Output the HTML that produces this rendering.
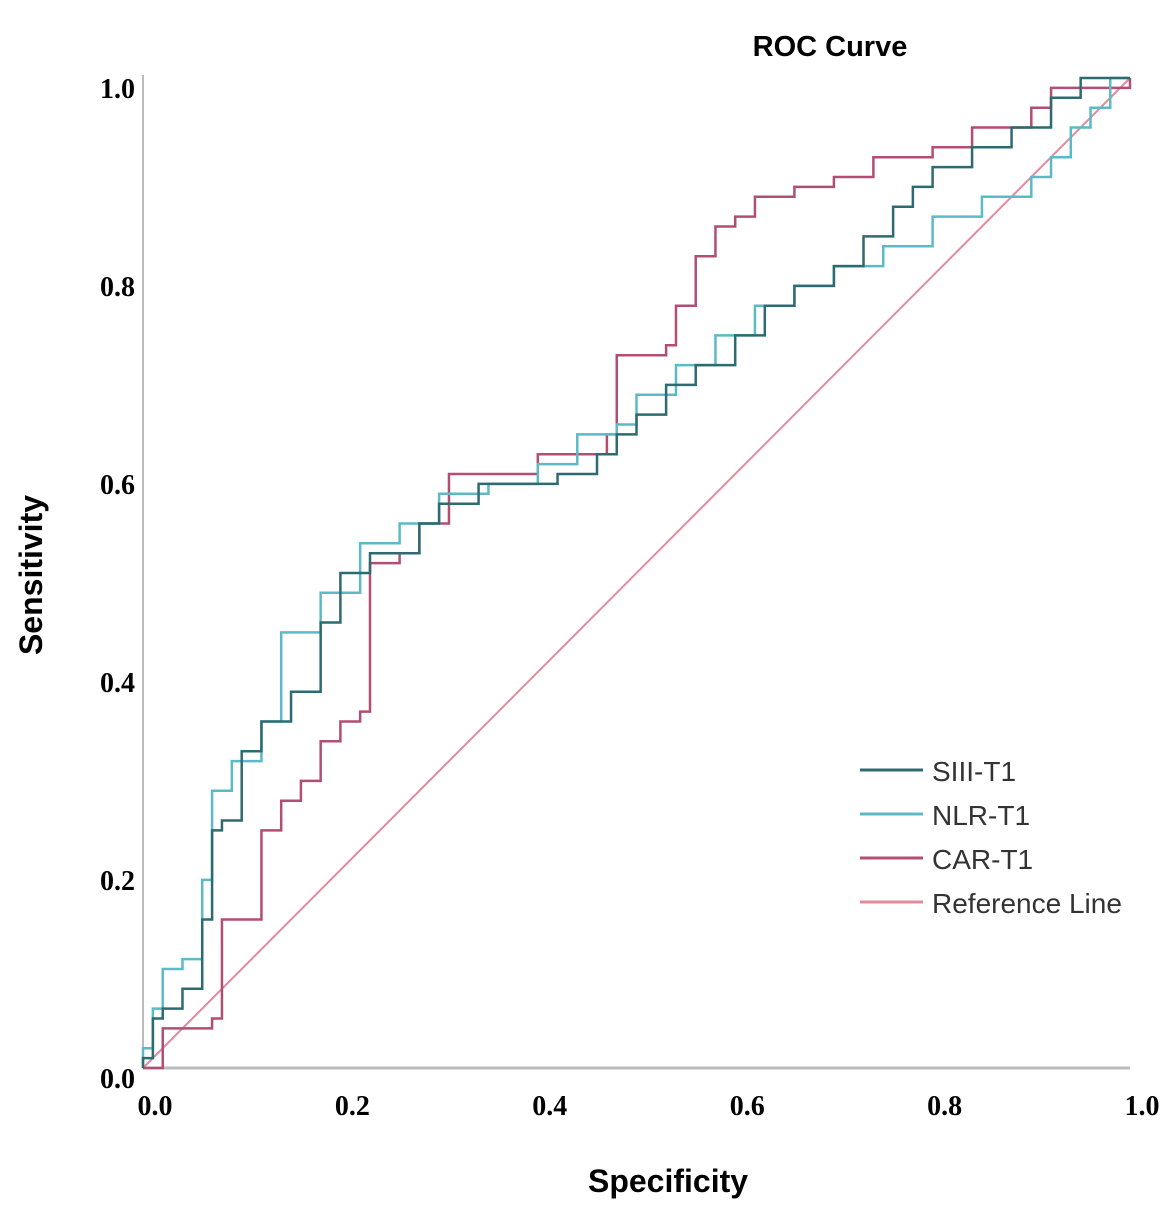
<!DOCTYPE html>
<html><head><meta charset="utf-8"><style>
body{margin:0;background:#fff;}
svg{display:block;}
</style></head><body>
<svg width="1171" height="1218" xmlns="http://www.w3.org/2000/svg">
<g id="plot"></g>
</svg>
<script>
const xTicks=[0,0.2,0.4,0.6,0.8,1.0];
const yTicks=[0,0.2,0.4,0.6,0.8,1.0];
const tickLabels=["0.0","0.2","0.4","0.6","0.8","1.0"];
const siiiSpec=[0,0.01,0.02,0.04,0.06,0.07,0.08,0.1,0.12,0.15,0.18,0.2,0.23,0.25,0.28,0.3,0.34,0.38,0.42,0.46,0.48,0.5,0.53,0.56,0.6,0.63,0.66,0.7,0.73,0.76,0.78,0.8,0.84,0.88,0.92,0.95,1.0];
const siiiSens=[0.01,0.05,0.06,0.08,0.15,0.24,0.25,0.32,0.35,0.38,0.45,0.5,0.52,0.52,0.55,0.57,0.59,0.59,0.60,0.62,0.64,0.66,0.69,0.71,0.74,0.77,0.79,0.81,0.84,0.87,0.89,0.91,0.93,0.95,0.98,1.0,1.0];
const nlrSpec=[0,0.01,0.02,0.04,0.06,0.07,0.09,0.12,0.14,0.16,0.18,0.22,0.26,0.3,0.35,0.4,0.44,0.48,0.5,0.54,0.58,0.62,0.66,0.7,0.75,0.8,0.85,0.9,0.92,0.94,0.96,0.98,1.0];
const nlrSens=[0.02,0.06,0.1,0.11,0.19,0.28,0.31,0.35,0.44,0.44,0.48,0.53,0.55,0.58,0.59,0.61,0.64,0.65,0.68,0.71,0.74,0.77,0.79,0.81,0.83,0.86,0.88,0.9,0.92,0.95,0.97,1.0,1.0];
const carSpec=[0,0.02,0.07,0.08,0.09,0.12,0.14,0.16,0.18,0.2,0.22,0.23,0.26,0.28,0.31,0.4,0.45,0.47,0.48,0.53,0.54,0.56,0.58,0.6,0.62,0.66,0.7,0.74,0.8,0.84,0.9,0.92,1.0];
const carSens=[0.0,0.04,0.05,0.15,0.15,0.24,0.27,0.29,0.33,0.35,0.36,0.51,0.52,0.55,0.6,0.62,0.62,0.64,0.72,0.73,0.77,0.82,0.85,0.86,0.88,0.89,0.9,0.92,0.93,0.95,0.97,0.99,1.0];
const NS="http://www.w3.org/2000/svg";
const g=document.getElementById('plot');
const X=v=>143+v*987, Y=v=>1068-v*990;
function el(t,a,txt){const e=document.createElementNS(NS,t);for(const k in a)e.setAttribute(k,a[k]);if(txt!==undefined)e.textContent=txt;g.appendChild(e);return e;}
let e;
e=el('line',{x1:143,y1:75,x2:143,y2:1068,stroke:'#bbb','stroke-width':2});


e=el('line',{x1:143,y1:1068,x2:1130,y2:1068,stroke:'#bbb','stroke-width':3});


xTicks.forEach((v,i)=>{
 e=el('text',{x:X(v)+12,y:1115,'font-family':'Liberation Serif, serif','font-weight':'bold','font-size':28,'text-anchor':'middle'},tickLabels[i]);
 
 
});
yTicks.forEach((v,i)=>{
 e=el('text',{x:135,y:Y(v)+20,'font-family':'Liberation Serif, serif','font-weight':'bold','font-size':28,'text-anchor':'end'},tickLabels[i]);
 
 
});
e=el('line',{x1:X(0),y1:Y(0),x2:X(1),y2:Y(1),stroke:'#e48a9c','stroke-width':2});


function stair(sx,sy,color,name){
 let d='M'+X(0)+' '+Y(0);
 for(let i=0;i<sx.length;i++){d+=' L'+X(sx[i])+' '+(i?Y(sy[i-1]):Y(0))+' L'+X(sx[i])+' '+Y(sy[i]);}
 const p=el('path',{d:d,fill:'none',stroke:color,'stroke-width':2.5});
 
 
}
stair(carSpec,carSens,'#b24d73','car-t1-curve');
stair(nlrSpec,nlrSens,'#5cbac6','nlr-t1-curve');
stair(siiiSpec,siiiSens,'#2d6b70','siii-t1-curve');
e=el('text',{x:830,y:56,'font-family':'Liberation Sans, sans-serif','font-weight':'bold','font-size':29,'text-anchor':'middle'},'ROC Curve');


e=el('text',{x:668,y:1192,'font-family':'Liberation Sans, sans-serif','font-weight':'bold','font-size':32,'text-anchor':'middle'},'Specificity');


e=el('text',{x:0,y:0,transform:'translate(42,575) rotate(-90)','font-family':'Liberation Sans, sans-serif','font-weight':'bold','font-size':32,'text-anchor':'middle'},'Sensitivity');


const leg=[['SIII-T1','#2d6b70'],['NLR-T1','#5cbac6'],['CAR-T1','#b24d73'],['Reference Line','#e48a9c']];
leg.forEach((l,i)=>{
 const y=770+i*44;
 e=el('line',{x1:860,y1:y,x2:923,y2:y,stroke:l[1],'stroke-width':3});
 
 
 e=el('text',{x:932,y:y+11,'font-family':'Liberation Sans, sans-serif','font-size':28,fill:'#333'},l[0]);
 
 
});
</script>
</body></html>
